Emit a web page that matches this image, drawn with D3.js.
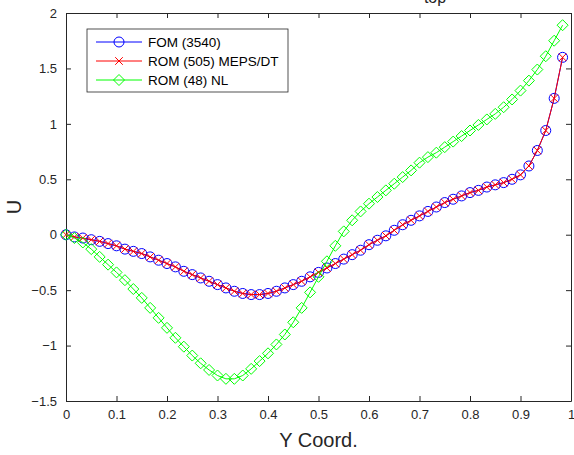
<!DOCTYPE html>
<html>
<head>
<meta charset="utf-8">
<script src="https://cdn.jsdelivr.net/npm/d3@7"></script>
<style>
  body { margin: 0; background: #fff; }
  svg { display: block; font-family: "Liberation Sans", Arial, sans-serif; }
</style>
</head>
<body>
<div id="chart"></div>
<script>
// y coordinate (sample positions)
const yCoord = d3.range(60).map(i => i / 60);

const fom = [0, -0.02, -0.03, -0.045, -0.06, -0.08, -0.10, -0.13, -0.15, -0.17,
  -0.20, -0.23, -0.26, -0.29, -0.33, -0.36, -0.39, -0.42, -0.45, -0.48,
  -0.51, -0.53, -0.54, -0.54, -0.53, -0.51, -0.48, -0.45, -0.42, -0.38,
  -0.34, -0.30, -0.26, -0.22, -0.18, -0.14, -0.09, -0.05, -0.01, 0.04,
  0.09, 0.13, 0.17, 0.21, 0.25, 0.29, 0.32, 0.35, 0.38, 0.40,
  0.43, 0.45, 0.47, 0.50, 0.54, 0.62, 0.76, 0.94, 1.23, 1.60];

// ROM MEPS/DT sits on top of the FOM
const romMeps = fom.slice();

const romNl = [0, -0.03, -0.07, -0.13, -0.20, -0.27, -0.34, -0.41, -0.49, -0.57,
  -0.66, -0.75, -0.84, -0.93, -1.01, -1.09, -1.16, -1.22, -1.27, -1.30,
  -1.30, -1.27, -1.21, -1.14, -1.07, -0.99, -0.90, -0.79, -0.66, -0.52,
  -0.38, -0.24, -0.10, 0.03, 0.13, 0.21, 0.28, 0.34, 0.40, 0.46,
  0.52, 0.58, 0.65, 0.70, 0.74, 0.79, 0.84, 0.89, 0.94, 0.99,
  1.04, 1.09, 1.15, 1.22, 1.30, 1.39, 1.49, 1.61, 1.75, 1.89];

const xTicks = d3.range(0, 1.0001, 0.1);
const yTicks = [-1.5, -1, -0.5, 0, 0.5, 1, 1.5, 2];

const legendNames = ["FOM (3540)", "ROM (505) MEPS/DT", "ROM (48) NL"];

const W = 574, H = 455;
const mLeft = 66, mRight = 571, mTop = 13, mBottom = 401;
const axisColor = "#262626";

const svg = d3.select("#chart").append("svg").attr("width", W).attr("height", H);

const x = d3.scaleLinear().domain([0, 1]).range([mLeft, mRight]);
const y = d3.scaleLinear().domain([-1.5, 2]).range([mBottom, mTop]);

// title fragment, mostly off the top of the picture (as in the original)
svg.append("text").attr("x", 435).attr("y", 3).attr("text-anchor", "middle")
  .style("font-size", "16px").attr("fill", axisColor).text("top");

// axes: bottom/left with labels, top/right with ticks only (inward)
const fmt = d => d3.format("")(+d.toFixed(1));
svg.append("g").attr("transform", `translate(0,${mBottom})`)
  .call(d3.axisBottom(x).tickValues(xTicks).tickSizeInner(-5).tickSizeOuter(0).tickPadding(9).tickFormat(fmt));
svg.append("g").attr("transform", `translate(${mLeft},0)`)
  .call(d3.axisLeft(y).tickValues(yTicks).tickSizeInner(-5).tickSizeOuter(0).tickPadding(9).tickFormat(fmt));
svg.append("g").attr("transform", `translate(0,${mTop})`)
  .call(d3.axisTop(x).tickValues(xTicks).tickSizeInner(-5).tickSizeOuter(0).tickFormat(""));
svg.append("g").attr("transform", `translate(${mRight},0)`)
  .call(d3.axisRight(y).tickValues(yTicks).tickSizeInner(-5).tickSizeOuter(0).tickFormat(""));

svg.selectAll(".domain").attr("stroke", axisColor);
svg.selectAll(".tick line").attr("stroke", axisColor);
svg.selectAll(".tick text").attr("fill", axisColor).style("font-size", "13px");

svg.append("text").attr("x", (mLeft + mRight) / 2).attr("y", 447).attr("text-anchor", "middle")
  .style("font-size", "20px").attr("fill", axisColor).text("Y Coord.");
svg.append("text").attr("transform", `translate(21,${(mTop + mBottom) / 2}) rotate(-90)`)
  .attr("text-anchor", "middle").style("font-size", "20px").attr("fill", axisColor).text("U");

const line = d3.line().x((d, i) => x(yCoord[i])).y(d => y(d));

function drawCircle(g, px, py, color) {
  g.append("circle").attr("cx", px).attr("cy", py).attr("r", 5)
    .attr("fill", "none").attr("stroke", color).attr("stroke-width", 1);
}
function drawCross(g, px, py, color) {
  const s = 3.8;
  g.append("path").attr("d", `M${px - s},${py - s}L${px + s},${py + s}M${px - s},${py + s}L${px + s},${py - s}`)
    .attr("stroke", color).attr("stroke-width", 1).attr("fill", "none");
}
function drawDiamond(g, px, py, color) {
  const s = 5.5;
  g.append("path").attr("d", `M${px},${py - s}L${px + s},${py}L${px},${py + s}L${px - s},${py}Z`)
    .attr("stroke", color).attr("stroke-width", 1).attr("fill", "none");
}

const series = [
  { data: fom, color: "#0000ff", marker: drawCircle },
  { data: romMeps, color: "#ff0000", marker: drawCross },
  { data: romNl, color: "#00ff00", marker: drawDiamond }
];

series.forEach(s => {
  const g = svg.append("g");
  g.append("path").datum(s.data).attr("d", line)
    .attr("fill", "none").attr("stroke", s.color).attr("stroke-width", 1);
  s.data.forEach((v, i) => s.marker(g, x(yCoord[i]), y(v), s.color));
});

// legend
const lg = svg.append("g");
lg.append("rect").attr("x", 87).attr("y", 29).attr("width", 201).attr("height", 63)
  .attr("fill", "#fff").attr("stroke", axisColor).attr("stroke-width", 0.8);
series.forEach((s, i) => {
  const ly = 42 + i * 19;
  lg.append("line").attr("x1", 96).attr("x2", 142).attr("y1", ly).attr("y2", ly)
    .attr("stroke", s.color).attr("stroke-width", 1);
  s.marker(lg, 119, ly, s.color);
  lg.append("text").attr("x", 148).attr("y", ly + 5).style("font-size", "13.5px")
    .attr("fill", "#000").text(legendNames[i]);
});
</script>
</body>
</html>
